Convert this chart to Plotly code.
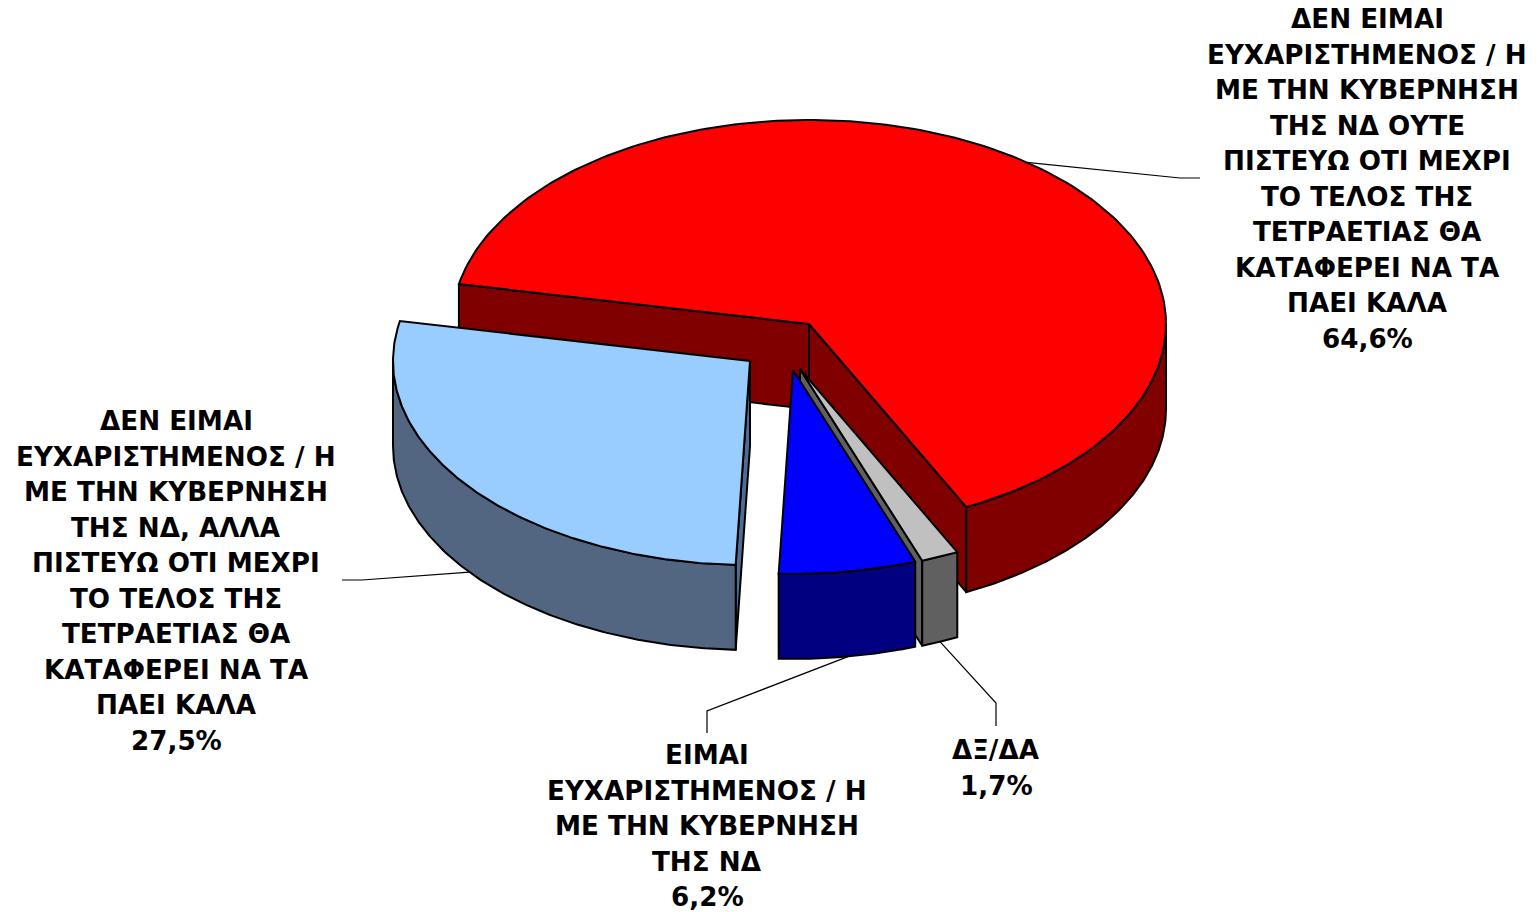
import numpy as np
import plotly.graph_objects as go

# ---- data ----
categories = [
    "ΔΕΝ ΕΙΜΑΙ|ΕΥΧΑΡΙΣΤΗΜΕΝΟΣ / Η|ΜΕ ΤΗΝ ΚΥΒΕΡΝΗΣΗ|ΤΗΣ ΝΔ ΟΥΤΕ|ΠΙΣΤΕΥΩ ΟΤΙ ΜΕΧΡΙ|ΤΟ ΤΕΛΟΣ ΤΗΣ|ΤΕΤΡΑΕΤΙΑΣ ΘΑ|ΚΑΤΑΦΕΡΕΙ ΝΑ ΤΑ|ΠΑΕΙ ΚΑΛΑ",
    "ΔΞ/ΔΑ",
    "ΕΙΜΑΙ|ΕΥΧΑΡΙΣΤΗΜΕΝΟΣ / Η|ΜΕ ΤΗΝ ΚΥΒΕΡΝΗΣΗ|ΤΗΣ ΝΔ",
    "ΔΕΝ ΕΙΜΑΙ|ΕΥΧΑΡΙΣΤΗΜΕΝΟΣ / Η|ΜΕ ΤΗΝ ΚΥΒΕΡΝΗΣΗ|ΤΗΣ ΝΔ, ΑΛΛΑ|ΠΙΣΤΕΥΩ ΟΤΙ ΜΕΧΡΙ|ΤΟ ΤΕΛΟΣ ΤΗΣ|ΤΕΤΡΑΕΤΙΑΣ ΘΑ|ΚΑΤΑΦΕΡΕΙ ΝΑ ΤΑ|ΠΑΕΙ ΚΑΛΑ",
]
values = [64.6, 1.7, 6.2, 27.5]

# ---- styles and layout ----
top_colors = ["#FF0000", "#C0C0C0", "#0000FF", "#99CCFF"]
side_colors = ["#800000", "#606060", "#000080", "#526682"]
radial_colors = ["#800000", "#606060", "#000080", "#4F6C96"]
apex_x = [809, 800, 793, 750]
apex_y = [324, 369, 370, 361]
label_x = [1367, 996, 707, 176]
label_y0 = [19, 750, 755, 421]
elbows = [[(1180, 178), (1200, 178)], [(996, 703), (996, 726)],
          [(707, 711), (707, 733)], [(362, 580), (342, 580)]]
RX, RY, DEPTH, START = 357, 204, 85, 281.3
LINE_H = 35.5
FONT = dict(family="DejaVu Sans", size=26.2, color="black", weight="bold")


def rim(i, a):
    a = np.radians(np.asarray(a, dtype=float))
    return apex_x[i] + RX * np.sin(a), apex_y[i] - RY * np.cos(a)


def poly(fig, xs, ys, color):
    fig.add_trace(go.Scatter(x=list(xs), y=list(ys), mode="lines", fill="toself", fillcolor=color,
                             line=dict(color="black", width=2), hoverinfo="skip", showlegend=False))


ends = START + np.cumsum(values) * 3.6
starts = np.r_[START, ends[:-1]]
fig = go.Figure()


def top(i):
    a = np.linspace(starts[i], ends[i], 200)
    x, y = rim(i, a)
    poly(fig, np.r_[apex_x[i], x, apex_x[i]], np.r_[apex_y[i], y, apex_y[i]], top_colors[i])


def radial(i, ang):
    x, y = rim(i, ang)
    ax, ay = apex_x[i], apex_y[i]
    poly(fig, [ax, x, x, ax, ax], [ay, y, y + DEPTH, ay + DEPTH, ay], radial_colors[i])


def outer(i):
    # the part of the rim that faces the viewer: 90..270 degrees clockwise from the top
    lo, hi = starts[i], ends[i]
    segs = [(max(lo, 90), min(hi, 270)), (max(lo, 450), min(hi, 630))]
    for s, e in segs:
        if e <= s:
            continue
        a = np.linspace(s, e, 160)
        x, y = rim(i, a)
        poly(fig, np.r_[x, x[::-1], x[0]], np.r_[y, (y + DEPTH)[::-1], y[0]], side_colors[i])


# painter's order: red, light blue, grey, blue
radial(0, starts[0])
radial(0, ends[0])
outer(0)
top(0)

radial(3, starts[3])
outer(3)
top(3)

radial(1, ends[1])
outer(1)
top(1)

outer(2)
top(2)

# leader lines start at the middle of each slice's outer rim
for i in range(4):
    mid = (starts[i] + ends[i]) / 2
    x, y = rim(i, mid)
    if np.cos(np.radians(mid)) < 0:
        y = y + DEPTH
    fig.add_trace(go.Scatter(x=[float(x)] + [p[0] for p in elbows[i]], y=[float(y)] + [p[1] for p in elbows[i]],
                             mode="lines", line=dict(color="black", width=1.2), hoverinfo="skip", showlegend=False))

# labels, one annotation for each line
for i, cat in enumerate(categories):
    lines = cat.split("|") + [f"{values[i]:.1f}%".replace(".", ",")]
    for k, t in enumerate(lines):
        fig.add_annotation(x=label_x[i], y=label_y0[i] + k * LINE_H, text=t, showarrow=False,
                           xanchor="center", yanchor="middle", font=FONT)

fig.update_layout(width=1538, height=912, margin=dict(l=0, r=0, t=0, b=0),
                  paper_bgcolor="white", plot_bgcolor="white", showlegend=False,
                  xaxis=dict(range=[0, 1538], visible=False, fixedrange=True),
                  yaxis=dict(range=[912, 0], visible=False, fixedrange=True))
fig.write_html("out.html", config=dict(displayModeBar=False),
               post_script="document.body.style.margin='0';document.body.style.overflow='hidden';")
